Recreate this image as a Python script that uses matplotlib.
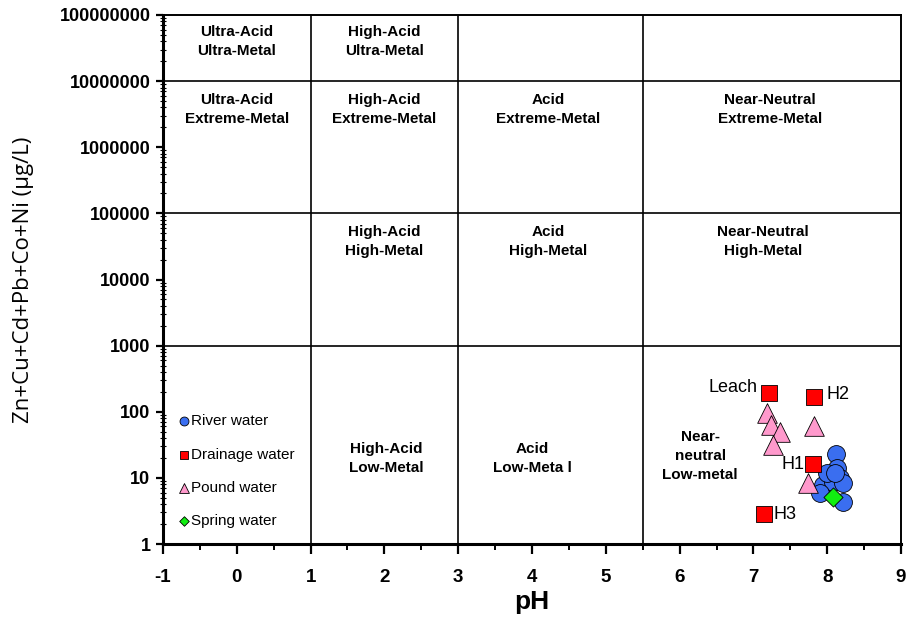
import matplotlib.pyplot as plt
import numpy as np
from matplotlib.ticker import LogLocator, NullFormatter, MultipleLocator

plt.rcParams['font.family'] = ['Liberation Sans', 'DejaVu Sans']
plt.rcParams['axes.unicode_minus'] = False

# data (pH, sum of metals in µg/L)
river_ph = [8.12, 8.13, 8.04, 8.17, 7.94, 8.08, 8.21, 7.90, 8.21, 8.00, 8.10]
river_metal = [23, 14, 10.3, 10, 7.8, 8.7, 8.4, 5.9, 4.3, 12, 12]
drain_ph = [7.21, 7.82, 7.81, 7.14]
drain_metal = [195, 167, 16, 2.8]
drain_names = ['Leach', 'H2', 'H1', 'H3']
pound_ph = [7.18, 7.24, 7.36, 7.27, 7.82, 7.74]
pound_metal = [96, 63, 49, 31, 61, 8.4]
spring_ph = [8.08]
spring_metal = [5.1]

ph_bounds = [1, 3, 5.5]
metal_bounds = [1e3, 1e5, 1e7]

# field labels: (pH, metal, text)
fields = [
    (0, 10**7.6, 'Ultra-Acid\nUltra-Metal'),
    (2, 10**7.6, 'High-Acid\nUltra-Metal'),
    (0, 10**6.57, 'Ultra-Acid\nExtreme-Metal'),
    (2, 10**6.57, 'High-Acid\nExtreme-Metal'),
    (4.22, 10**6.57, 'Acid\nExtreme-Metal'),
    (7.22, 10**6.57, 'Near-Neutral\nExtreme-Metal'),
    (2, 10**4.57, 'High-Acid\nHigh-Metal'),
    (4.22, 10**4.57, 'Acid\nHigh-Metal'),
    (7.13, 10**4.57, 'Near-Neutral\nHigh-Metal'),
    (2.02, 10**1.30, 'High-Acid\nLow-Metal'),
    (4.01, 10**1.30, 'Acid\nLow-Meta l'),
    (6.28, 10**1.33, 'Near-\nneutral\nLow-metal'),
]

y_ticks = [10**k for k in range(0, 9)]
y_labels = [str(v) for v in y_ticks]

fig = plt.figure(figsize=(9.08, 6.17), dpi=100)
ax = fig.add_axes([0.1795, 0.1183, 0.8128, 0.8574])

ax.set_xlim(-1, 9)
ax.set_yscale('log')
ax.set_ylim(1, 1e8)

for x in ph_bounds:
    ax.axvline(x, color='black', lw=1.2, zorder=1)
for y in metal_bounds:
    ax.axhline(y, color='black', lw=1.2, zorder=1)

for x, y, t in fields:
    ax.text(x, y, t, ha='center', va='center', fontsize=11, fontweight='bold',
            linespacing=1.45)

riv = ax.scatter(river_ph, river_metal, marker='o', s=165, c='#3a6ef0',
                 edgecolors='black', linewidths=0.6, zorder=3)
pnd = ax.scatter(pound_ph, pound_metal, marker='^', s=200, c='#ff99cc',
                 edgecolors='black', linewidths=0.6, zorder=4)
drn = ax.scatter(drain_ph, drain_metal, marker='s', s=135, c='#ff0000',
                 edgecolors='black', linewidths=0.6, zorder=5)
spr = ax.scatter(spring_ph, spring_metal, marker='D', s=95, c='#11ee11',
                 edgecolors='black', linewidths=0.6, zorder=6)

offsets = {'Leach': (-8, 4, 'right'), 'H2': (9, 2, 'left'),
           'H1': (-6, 0, 'right'), 'H3': (7, 0, 'left')}
for x, y, name in zip(drain_ph, drain_metal, drain_names):
    dx, dy, ha = offsets[name]
    ax.annotate(name, (x, y), xytext=(dx, dy), textcoords='offset points',
                ha=ha, va='center', fontsize=13)

ax.legend([riv, drn, pnd, spr],
          ['River water', 'Drainage water', 'Pound water', 'Spring water'],
          loc='lower left', bbox_to_anchor=(0.0, 0.004), frameon=False,
          markerscale=0.5, handletextpad=0.05, handlelength=0.9,
          labelspacing=1.26, fontsize=11)

ax.xaxis.set_major_locator(MultipleLocator(1))
ax.xaxis.set_minor_locator(MultipleLocator(0.5))
ax.set_yticks(y_ticks)
ax.set_yticklabels(y_labels)
ax.yaxis.set_minor_locator(LogLocator(base=10, subs=np.arange(2, 10), numticks=20))
ax.yaxis.set_minor_formatter(NullFormatter())

ax.tick_params(axis='x', which='major', direction='out', length=7, width=1.6,
               labelsize=13.5, pad=11)
ax.tick_params(axis='x', which='minor', direction='out', length=4, width=1.4)
ax.tick_params(axis='y', which='major', direction='out', length=5, width=1.6,
               labelsize=13, pad=4)
ax.tick_params(axis='y', which='minor', direction='inout', length=4, width=0.8)
for lab in ax.get_xticklabels() + ax.get_yticklabels():
    lab.set_fontweight('bold')

for side in ['left', 'bottom']:
    ax.spines[side].set_linewidth(2.2)
for side in ['top', 'right']:
    ax.spines[side].set_linewidth(1.4)

ax.set_xlabel('pH', fontsize=19, fontweight='bold', labelpad=3)
ax.set_ylabel('Zn+Cu+Cd+Pb+Co+Ni (µg/L)', fontsize=16,
              family=['Open Sans', 'DejaVu Sans'], labelpad=18)

fig.savefig('out.png', dpi=100)
